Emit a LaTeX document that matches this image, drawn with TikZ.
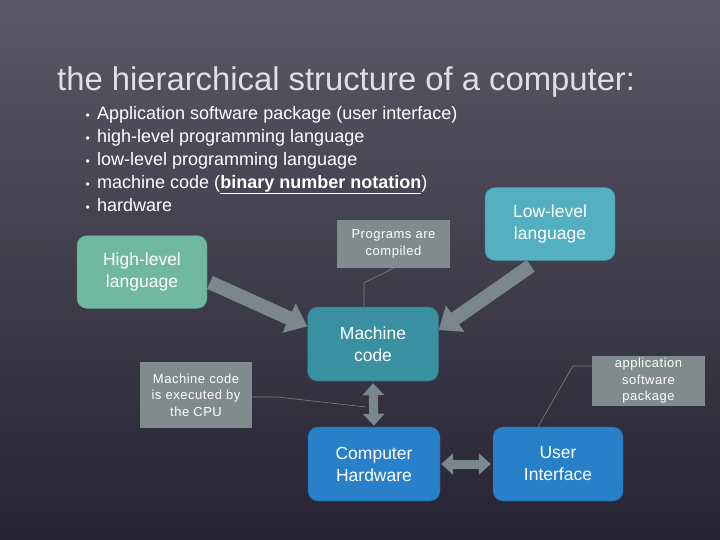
\documentclass[tikz,border=0pt]{standalone}
\usepackage{fontspec}
\setmainfont{Liberation Sans}
\newfontfamily\notefont[LetterSpace=4]{Liberation Sans}
\usepackage{xcolor}
\usetikzlibrary{arrows.meta, positioning}

\definecolor{bgtop}{RGB}{90,88,102}
\definecolor{bgbottom}{RGB}{38,36,50}
\definecolor{titlegray}{RGB}{222,224,232}
\definecolor{highgreen}{RGB}{112,184,160}
\definecolor{lowcyan}{RGB}{82,176,192}
\definecolor{machteal}{RGB}{56,144,160}
\definecolor{hwblue}{RGB}{40,128,200}
\definecolor{notegray}{RGB}{128,139,139}
\definecolor{arrowgray}{RGB}{122,136,140}
\definecolor{leadergray}{RGB}{118,128,134}

\begin{document}
\begin{tikzpicture}[
    x=1pt, y=-1pt,
    box/.style={rounded corners=10pt, align=center, text=white, minimum width=130pt, minimum height=73pt, font=\fontsize{17.5}{22}\selectfont},
    note/.style={fill=notegray, text=white, align=center, inner sep=0pt, font=\notefont\fontsize{13}{16.5}\selectfont},
    blockarrow/.style={draw=arrowgray, line width=14pt, -{Triangle[length=20pt,width=31pt]}},
    dblarrow/.style={draw=arrowgray, line width=9pt, {Triangle[length=12pt,width=21pt]}-{Triangle[length=12pt,width=21pt]}},
    leader/.style={draw=leadergray, line width=0.6pt}
]

% Background
\fill[top color=bgtop, bottom color=bgbottom] (0,0) rectangle (720,540);
\useasboundingbox (0,0) rectangle (720,540);

% Title and list
\node (title) [anchor=base west, inner sep=0pt, text=titlegray, font=\fontsize{32.8}{38}\selectfont] at (57,91) {the hierarchical structure of a computer:};
\foreach \txt [count=\i] in {Application software package (user interface),
    high-level programming language,
    low-level programming language,
    {machine code (\underline{\textbf{binary number notation}})},
    hardware} {
  \node [anchor=base west, inner sep=0pt, text=white, font=\fontsize{12}{14}\selectfont] at (85.5,119.5+23*\i-23) {\textbullet};
  \node [anchor=base west, inner sep=0pt, text=white, font=\fontsize{18}{21}\selectfont] at (97,119.5+23*\i-23) {\txt};
}

% Boxes
\node (high) [box, fill=highgreen, draw=highgreen!80!black] at (142,272) {High-level\\language};
\node (low) [box, fill=lowcyan, draw=lowcyan!80!black] at (550,224) {Low-level\\language};
\node (mach) [box, fill=machteal, draw=machteal!80!black, minimum width=131pt, minimum height=74pt] at (373,344) {Machine\\code};
\node (hw) [box, fill=hwblue, draw=hwblue!80!black, minimum width=132pt, minimum height=74pt] at (374,464) {Computer\\Hardware};
\node (ui) [box, fill=hwblue, draw=hwblue!80!black, minimum height=74pt] at (558,464) {User\\Interface};

% Notes
\node (compiled) [note, minimum width=113pt, minimum height=48pt] at (393.5,244) {Programs are\\compiled};
\node (appsw) [note, minimum width=113pt, minimum height=50pt] at (648.5,381) {application\\software\\package};
\node (cpu) [note, minimum width=112pt, minimum height=66pt] at (196,395) {Machine code\\is executed by\\the CPU};

% Arrows
\draw[blockarrow, shorten <=3pt] (high.-8) -- (mach.165);
\draw[blockarrow, shorten <=9pt] (low.-108) -- (mach.12);
\draw[dblarrow, shorten <=2pt, shorten >=1pt] (mach.south) -- (hw.north);
\draw[dblarrow, shorten <=1pt, shorten >=2pt] (hw.east) -- (ui.west);

% Leader lines
\coordinate (exec) at (366,407);
\draw[leader] (compiled.south) -- ([xshift=-9pt,yshift=24pt]mach.north) -- ([xshift=-9pt]mach.north);
\draw[leader] ([yshift=15pt]appsw.west) -- ++(-19,0) -- ([xshift=-20pt]ui.north);
\draw[leader] ([yshift=-2pt]cpu.east) -- ++(25,0) -- (exec);

\end{tikzpicture}
\end{document}
